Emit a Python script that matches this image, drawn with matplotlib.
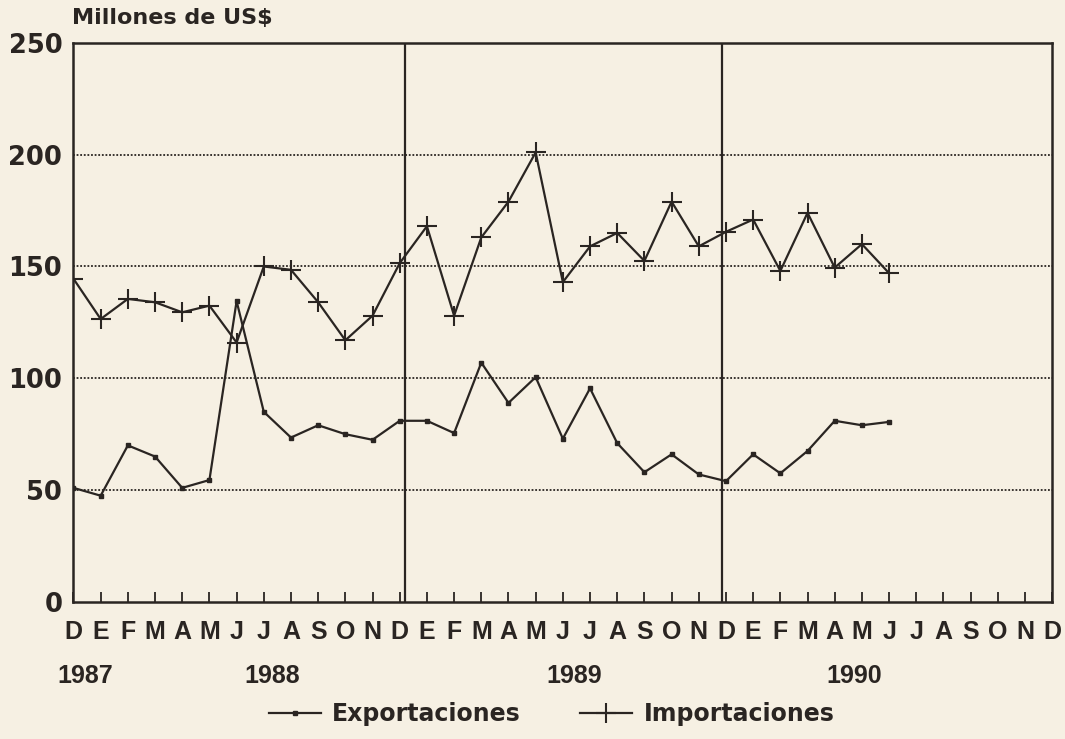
import matplotlib.pyplot as plt
from matplotlib.lines import Line2D

# meses desde dic-1987 hasta dic-1990
meses = ['D', 'E', 'F', 'M', 'A', 'M', 'J', 'J', 'A', 'S', 'O', 'N',
         'D', 'E', 'F', 'M', 'A', 'M', 'J', 'J', 'A', 'S', 'O', 'N',
         'D', 'E', 'F', 'M', 'A', 'M', 'J', 'J', 'A', 'S', 'O', 'N', 'D']
anios = ['1987', '1988', '1989', '1990']
anios_pos = [0.42, 7.3, 18.4, 28.7]
separadores = [12.2, 23.85]

# millones de US$, dic-1987 a jun-1990
exportaciones = [51, 47.5, 70, 65, 51, 54.5, 134.5, 85, 73.5, 79, 75, 72.5,
                 81, 81, 75.5, 107, 89, 100.5, 73, 95.5, 71, 58, 66, 57,
                 54, 66, 57.5, 67.5, 81, 79, 80.5]
importaciones = [144.5, 126.5, 135.5, 134, 129.5, 132.5, 116, 150, 148.5, 134, 117, 128,
                 151.5, 168, 128, 163, 179, 201, 143, 159, 165, 152.5, 179, 159,
                 165.5, 171, 148, 174, 149.5, 160, 147]

papel = '#f6f0e3'
tinta = '#2a2522'

fig = plt.figure(figsize=(10.65, 7.39), dpi=100, facecolor=papel)
ax = fig.add_axes([0.069, 0.1855, 0.919, 0.7565], facecolor=papel)

x = list(range(len(exportaciones)))
ax.plot(x, importaciones, color=tinta, lw=1.6, marker='+', ms=15, mew=1.5)
ax.plot(x, exportaciones, color=tinta, lw=1.6, marker='s', ms=3.5)

for v in separadores:
    ax.axvline(v, color=tinta, lw=1.6)

ax.set_xlim(0, len(meses) - 1)
ax.set_ylim(0, 250)
ax.set_yticks(range(0, 251, 50))
ax.set_xticks(range(len(meses)))
ax.set_xticklabels(meses, family='Liberation Sans', weight='bold', fontsize=18)
for t in ax.get_yticklabels():
    t.set_family('DejaVu Sans')
    t.set_weight('bold')
    t.set_fontsize(18.5)
ax.tick_params(axis='x', direction='in', length=7, width=1.3, color=tinta,
               labelcolor=tinta, pad=13)
ax.tick_params(axis='y', length=0, labelcolor=tinta, pad=8)

for g in [50, 100, 150, 200]:
    ax.axhline(g, color=tinta, lw=1.3, ls=(0, (1, 1)))

for s in ax.spines.values():
    s.set_color(tinta)
    s.set_linewidth(1.8)

for lab, p in zip(anios, anios_pos):
    ax.text(p, -0.132, lab, transform=ax.get_xaxis_transform(), ha='center', va='center',
            family='Liberation Sans', weight='bold', fontsize=18, color=tinta)

fig.text(0.068, 0.975, 'Millones de US$', ha='left', va='center',
         family='DejaVu Sans', weight='bold', fontsize=16, color=tinta)

h1 = Line2D([], [], color=tinta, lw=1.6, marker='s', ms=3.5)
h2 = Line2D([], [], color=tinta, lw=1.6, marker='+', ms=15, mew=1.5)
fig.legend([h1, h2], ['Exportaciones', 'Importaciones'], loc='center',
           bbox_to_anchor=(0.518, 0.034), ncol=2, frameon=False,
           prop={'family': 'DejaVu Sans', 'weight': 'bold', 'size': 17},
           labelcolor=tinta, handlelength=2.2, handletextpad=0.5, columnspacing=2.5)

fig.savefig('out.png', dpi=100, facecolor=papel)
